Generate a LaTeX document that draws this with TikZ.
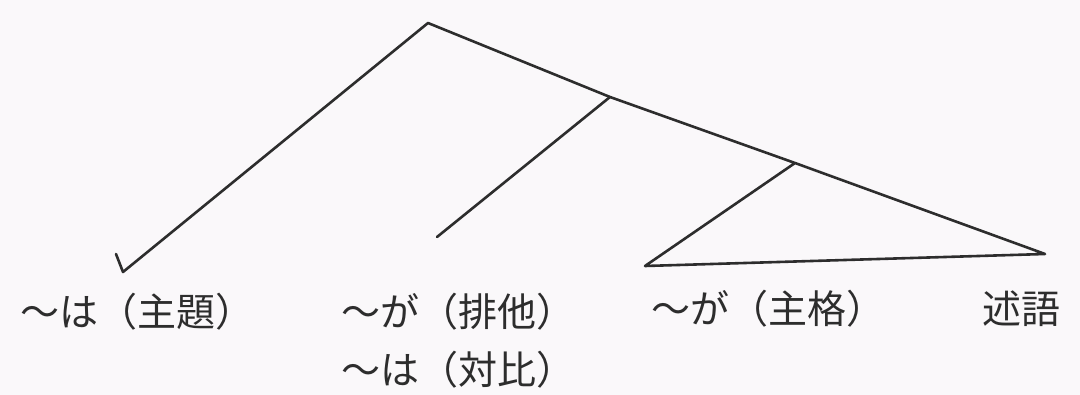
\documentclass[tikz,border=0pt]{standalone}
\usepackage{fontspec}
\newfontfamily\jp{Noto Sans CJK JP}
\definecolor{bg}{RGB}{250,248,250}
\definecolor{ink}{RGB}{45,45,45}
\begin{document}
\begin{tikzpicture}[x=0.5pt,y=-0.5pt,
  branch/.style={draw=ink,line width=1.3pt,line join=round,line cap=round},
  lbl/.style={font=\jp\fontsize{19.5pt}{23pt}\selectfont,text=ink,inner sep=0pt,anchor=west}]
\fill[bg] (0,0) rectangle (1080,395);
\useasboundingbox (0,0) rectangle (1080,395);
\coordinate (top) at (428,23);
\coordinate (b1) at (610,97);
\coordinate (b2) at (795,163);
\coordinate (r) at (1045,254);
\coordinate (l) at (123,272);
\coordinate (lh) at (116,254);
\coordinate (m) at (437,237);
\coordinate (s) at (645,266);
\draw[branch] (lh) -- (l) -- (top) -- (b1) -- (b2) -- (r) -- (s) -- (b2);
\draw[branch] (b1) -- (m);
\node[lbl] (topic) at (20,312) {～は（主題）};
\node[lbl] (excl) at (341,312) {～が（排他）};
\node[lbl] (contr) at (341,370) {～は（対比）};
\node[lbl] (subj) at (651,309) {～が（主格）};
\node[lbl] (pred) at (982,309) {述語};
\end{tikzpicture}
\end{document}
